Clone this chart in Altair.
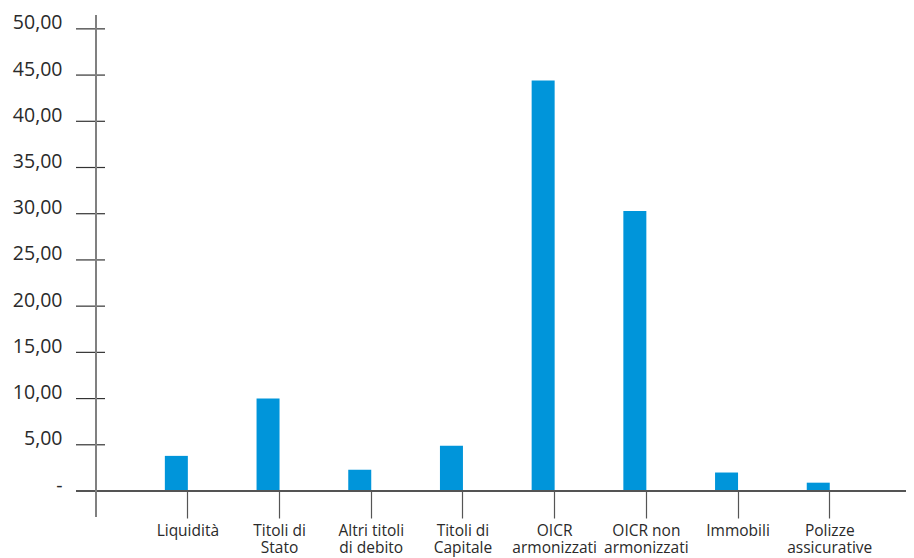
import altair as alt
import pandas as pd

categories = ["Liquidità", "Titoli di\nStato", "Altri titoli\ndi debito", "Titoli di\nCapitale",
              "OICR\narmonizzati", "OICR non\narmonizzati", "Immobili", "Polizze\nassicurative"]
values = [3.8, 10.0, 2.3, 4.9, 44.4, 30.3, 2.0, 0.9]
y_ticks = [0, 5, 10, 15, 20, 25, 30, 35, 40, 45, 50]

df = pd.DataFrame({"cat": categories, "val": values})
tick_df = pd.DataFrame({"v": y_ticks[1:]})

W, H = 810, 476
yscale = alt.Scale(domain=[0, 51.5], nice=False, zero=True)
xscale = alt.Scale(range=[46, 46 + 733.6], paddingInner=0, paddingOuter=0)

bars = alt.Chart(df).mark_bar(size=23, xOffset=-11.5, color="#0095DA").encode(
    x=alt.X("cat:N", sort=None, scale=xscale, title=None,
            axis=alt.Axis(labelAngle=0, labelFont="Open Sans", labelFontSize=15.5,
                          labelColor="#2a2a2a", labelLineHeight=17, labelPadding=5,
                          labelBaseline="top", labelLimit=300,
                          labelExpr="split(datum.label, '\\n')",
                          tickSize=27, tickColor="#555555", tickWidth=1.2,
                          domain=False, grid=False)),
    y=alt.Y("val:Q", scale=yscale, title=None,
            axis=alt.Axis(values=y_ticks, domain=False, ticks=False, grid=False,
                          labelPadding=34, labelFont="Open Sans", labelFontSize=19.5,
                          labelColor="#2a2a2a", labelBaseline="alphabetic",
                          labelExpr="datum.value == 0 ? '-' : replace(format(datum.value, '.2f'), '.', ',')")),
)

ytick_rules = alt.Chart(tick_df).mark_rule(color="#333333", strokeWidth=1.2).encode(
    y=alt.Y("v:Q", scale=yscale),
    x=alt.value(-20), x2=alt.value(9),
)

xaxis_line = alt.Chart(df).mark_rule(color="#555555", strokeWidth=1.3).encode(
    y=alt.value(H), x=alt.value(-20), x2=alt.value(816),
)

yaxis_line = alt.Chart(df).mark_rule(color="#808080", strokeWidth=1.5).encode(
    x=alt.value(0), y=alt.value(0), y2=alt.value(H + 26),
)

chart = alt.layer(bars, ytick_rules, xaxis_line, yaxis_line).properties(
    width=W, height=H,
    autosize=alt.AutoSizeParams(type="none"),
    padding={"left": 88, "top": 7, "right": 0, "bottom": 67},
    background="white",
).configure_view(stroke=None)

chart.save("out.html", embed_options={"renderer": "svg", "actions": False})
